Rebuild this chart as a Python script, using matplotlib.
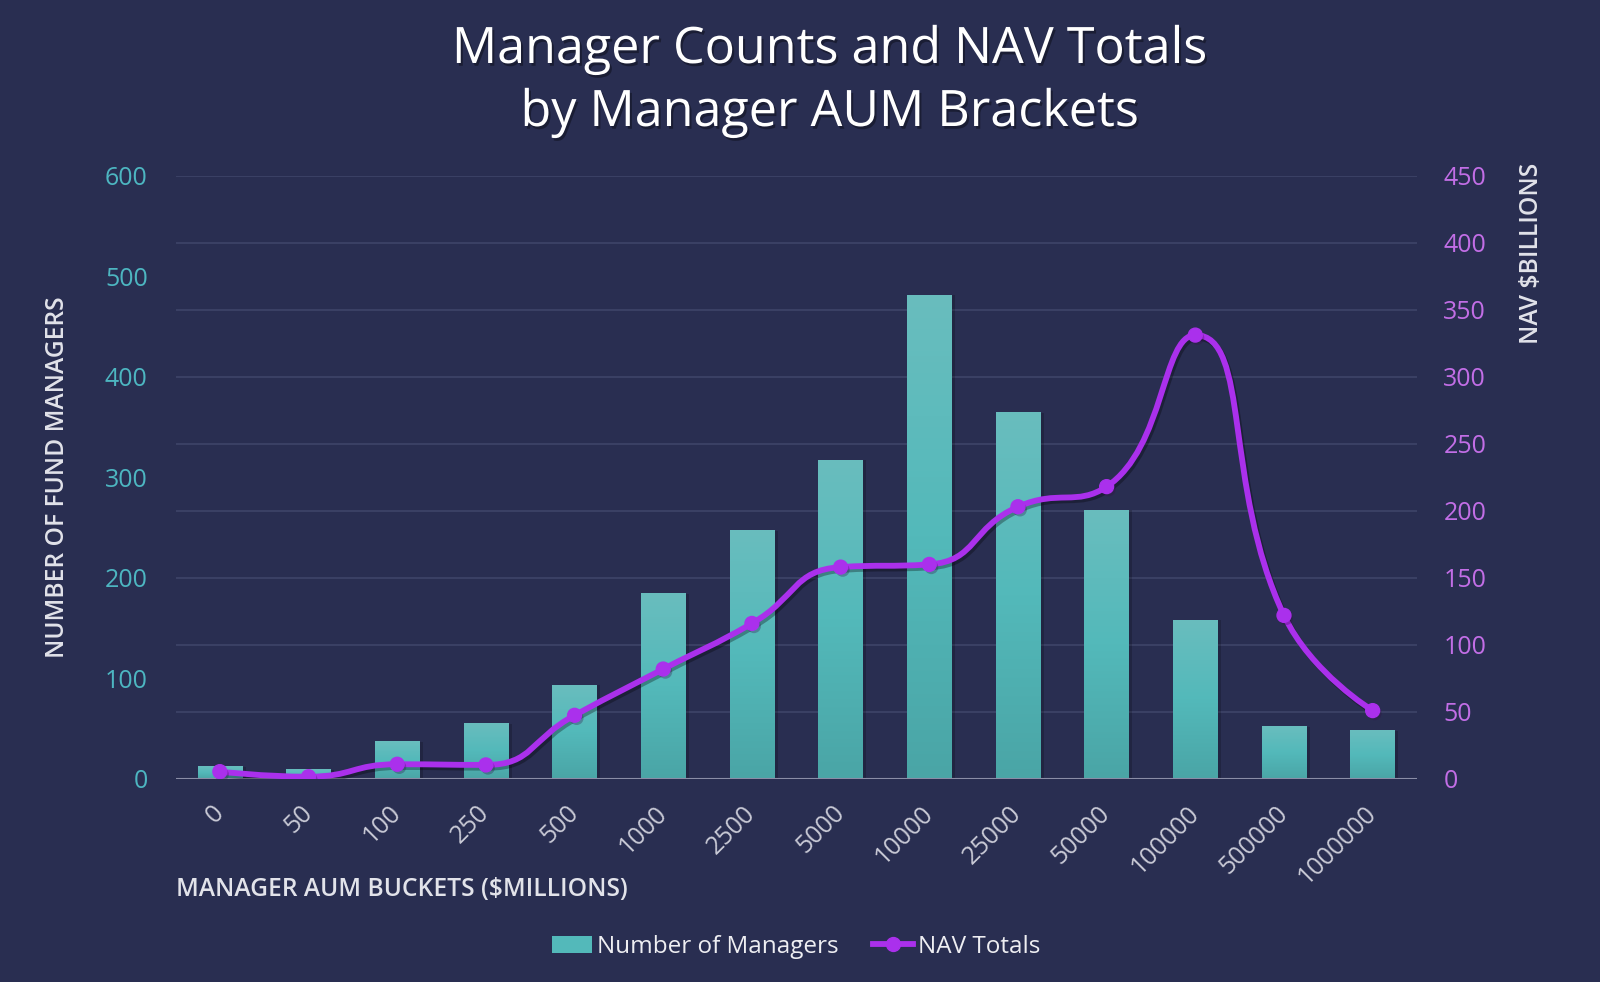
import numpy as np
import matplotlib
matplotlib.use("Agg")
import matplotlib.pyplot as plt
from matplotlib.path import Path
from matplotlib.patches import PathPatch, Patch
from matplotlib.lines import Line2D
from matplotlib.colors import LinearSegmentedColormap
import matplotlib.patheffects as pe

# data
buckets = ["0", "50", "100", "250", "500", "1000", "2500", "5000",
           "10000", "25000", "50000", "100000", "500000", "1000000"]
managers = [12, 9, 37, 55, 93, 184, 247, 317, 481, 364, 267, 158, 52, 48]
nav_totals = [5.5, 1.7, 11, 10.5, 47.5, 82, 116, 158, 160, 203, 218, 331, 122, 51]

left_ticks = [0, 100, 200, 300, 400, 500, 600]
right_ticks = [0, 50, 100, 150, 200, 250, 300, 350, 400, 450]

BG = "#292e51"
GRID = "#3e4468"
BAR_TOP = "#69bdbe"
BAR_MID = "#53b9ba"
BAR_BOT = "#4aa5a6"
LINE = "#aa30ec"
LEFT_TICK = "#4db6c1"
RIGHT_TICK = "#c26ee6"
LABEL = "#e2e3ea"
FONT = ["Open Sans", "DejaVu Sans"]

plt.rcParams["font.family"] = FONT

W, H = 1600, 982
fig = plt.figure(figsize=(W / 100, H / 100), dpi=100, facecolor=BG)

x0, x1, y0, y1 = 175.5, 1417, 175.5, 779
ax = fig.add_axes([x0 / W, 1 - y1 / H, (x1 - x0) / W, (y1 - y0) / H])
ax.set_facecolor(BG)
ax2 = ax.twinx()

xs = np.arange(len(buckets))
ax.set_xlim(-0.5, len(buckets) - 0.5)
ax.set_ylim(0, 600)
ax2.set_ylim(0, 450)

# gridlines follow the right-hand axis ticks, drawn behind bars
for t in right_ticks[1:]:
    ax.axhline(t * 600 / 450, color=GRID, lw=1.2, zorder=0)

# bars with a vertical gradient
cmap = LinearSegmentedColormap.from_list("bar", [BAR_BOT, BAR_MID, BAR_TOP])
grad = np.linspace(0, 1, 256).reshape(-1, 1)
bw = 0.5
for x, v in zip(xs, managers):
    ax.bar(x + 0.04, v, width=bw, color="black", alpha=0.18, zorder=1, linewidth=0)
    ax.imshow(grad, extent=[x - bw / 2, x + bw / 2, 0, v], origin="lower",
              cmap=cmap, aspect="auto", zorder=2, interpolation="bicubic")
ax.set_xlim(-0.5, len(buckets) - 0.5)
ax.set_ylim(0, 600)


def smooth_path(pts, smooth=0.5):
    # bezier smoothing with control points kept between neighbours
    verts = [tuple(pts[0])]
    codes = [Path.MOVETO]
    cp0 = pts[0].copy()
    n = len(pts)
    for i in range(1, n):
        px, py = pts[i - 1]
        x, y = pts[i]
        if i == n - 1:
            cp1 = np.array([x, y])
            nxt = None
        else:
            nx, ny = pts[i + 1]
            vx, vy = nx - px, ny - py
            lp = np.hypot(x - px, y - py)
            ln = np.hypot(nx - x, ny - y)
            r = ln / (ln + lp)
            ncx = x + vx * smooth * r
            ncy = y + vy * smooth * r
            ncx = max(min(ncx, max(nx, x)), min(nx, x))
            ncy = max(min(ncy, max(ny, y)), min(ny, y))
            vx, vy = ncx - x, ncy - y
            c1x = x - vx * lp / ln
            c1y = y - vy * lp / ln
            c1x = max(min(c1x, max(px, x)), min(px, x))
            c1y = max(min(c1y, max(py, y)), min(py, y))
            vx, vy = x - c1x, y - c1y
            nxt = np.array([x + vx * ln / lp, y + vy * ln / lp])
            cp1 = np.array([c1x, c1y])
        verts += [tuple(cp0), tuple(cp1), (x, y)]
        codes += [Path.CURVE4] * 3
        cp0 = nxt
    return Path(verts, codes)


pix = ax2.transData.transform(np.column_stack([xs, nav_totals]))
pix_path = smooth_path(pix)
data_path = Path(ax2.transData.inverted().transform(pix_path.vertices), pix_path.codes)
curve = PathPatch(data_path, facecolor="none", edgecolor=LINE, lw=4.2, zorder=3,
                  capstyle="round", joinstyle="round")
curve.set_path_effects([pe.SimpleLineShadow(offset=(1.5, -2), shadow_color="black", alpha=0.3),
                        pe.Normal()])
ax2.add_patch(curve)
ax2.plot(xs, nav_totals, linestyle="none", marker="o", ms=10, color=LINE, zorder=4,
         path_effects=[pe.SimplePatchShadow(offset=(1.5, -2), alpha=0.3), pe.Normal()])

# axes styling
for a in (ax, ax2):
    for side in ("top", "left", "right", "bottom"):
        a.spines[side].set_visible(False)
ax.axhline(0, color="#8a8da6", lw=1.5, zorder=5)

ax.set_yticks(left_ticks)
ax.tick_params(axis="y", length=0, pad=20, labelsize=18, labelcolor=LEFT_TICK)
ax2.set_yticks(right_ticks)
ax2.tick_params(axis="y", length=0, pad=19, labelsize=18, labelcolor=RIGHT_TICK)

ax.set_xticks(xs)
ax.set_xticklabels(buckets, rotation=45, ha="right", va="center", rotation_mode="anchor")
ax.tick_params(axis="x", length=0, pad=22, labelsize=18, labelcolor="#c9cad6")

fig.text(x0 / W, 1 - 889 / H, "MANAGER AUM BUCKETS ($MILLIONS)", ha="left", va="center",
         fontsize=17.7, color=LABEL, fontweight="semibold")
fig.text(58 / W, 1 - 477 / H, "NUMBER OF FUND MANAGERS", rotation=90, ha="center",
         va="center", fontsize=17.7, color=LABEL, fontweight="semibold")
fig.text(1531 / W, 1 - 163 / H, "NAV $BILLIONS", rotation=90, ha="center", va="top",
         fontsize=17.7, color=LABEL, fontweight="semibold")

# title
shadow = [pe.withSimplePatchShadow(offset=(1.5, -2), shadow_rgbFace="black", alpha=0.35)]
fig.text(829 / W, 1 - 63 / H, "Manager Counts and NAV Totals", ha="center", va="baseline",
         fontsize=36.2, color="white", path_effects=shadow)
fig.text(829 / W, 1 - 126 / H, "by Manager AUM Brackets", ha="center", va="baseline",
         fontsize=36.2, color="white", path_effects=shadow)

# legend
handles = [Patch(facecolor=BAR_MID, edgecolor="none"),
           Line2D([0], [0], color=LINE, lw=4.2, marker="o", ms=10)]
leg = fig.legend(handles, ["Number of Managers", "NAV Totals"], loc="center",
                 bbox_to_anchor=(796 / W, 1 - 947 / H), ncol=2, frameon=False,
                 fontsize=17.5, handlelength=1.65, handleheight=0.7, handletextpad=0.2,
                 columnspacing=1.4, labelcolor="#eeeef2")

fig.savefig("out.png", dpi=100, facecolor=BG)
